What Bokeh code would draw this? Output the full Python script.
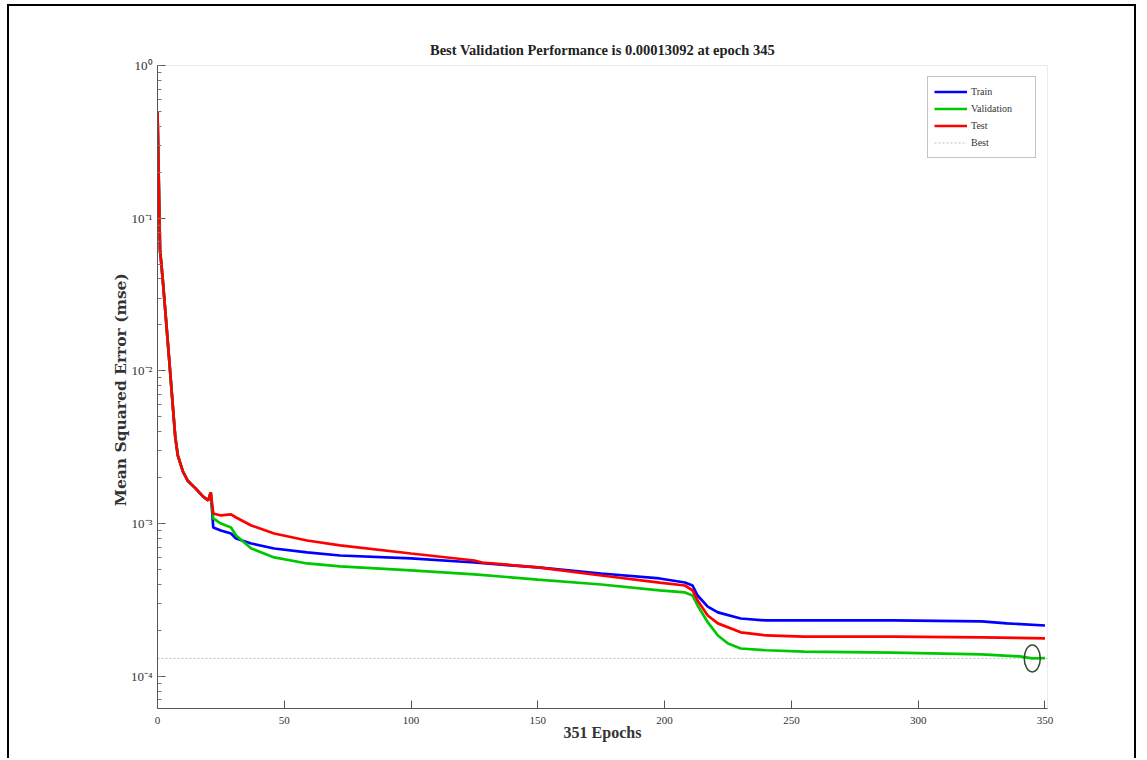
from bokeh.plotting import figure
from bokeh.models import (Range1d, CustomJSTickFormatter, Legend, LegendItem)
from bokeh.embed import file_html
from bokeh.resources import INLINE

# ---- data ----
common_epochs = [0, 1, 2, 3, 4, 5, 6, 7, 8, 10, 12, 15, 18, 20, 21]
common_mse = [0.5, 0.062, 0.041, 0.0256, 0.0159, 0.0098, 0.0060, 0.0037, 0.0028,
              0.0022, 0.0019, 0.0017, 0.0015, 0.00142, 0.0016]

train_epochs = [22, 25, 29, 31, 37, 46, 59, 72, 100, 125, 150, 175, 198, 208, 211,
                213, 217, 221, 230, 240, 290, 325, 335, 350]
train_mse = [0.000942, 0.000901, 0.000861, 0.000799, 0.000741, 0.000687, 0.000647,
             0.000618, 0.000591, 0.000556, 0.000516, 0.000471, 0.000437, 0.000411,
             0.000393, 0.000338, 0.000286, 0.000262, 0.000239, 0.000232, 0.000232,
             0.000229, 0.000222, 0.000215]

val_epochs = [22, 25, 29, 31, 37, 46, 59, 72, 100, 125, 150, 175, 198, 208, 211,
              213, 217, 221, 225, 230, 240, 255, 290, 325, 340, 345, 350]
val_mse = [0.00108, 0.00100, 0.000942, 0.000836, 0.000687, 0.000600, 0.000548,
           0.000524, 0.000493, 0.000465, 0.000430, 0.000399, 0.000365, 0.000354,
           0.000338, 0.000291, 0.000226, 0.000185, 0.000164, 0.000152, 0.000148,
           0.000145, 0.000143, 0.000139, 0.000135, 0.00013092, 0.0001314]

test_epochs = [22, 25, 29, 31, 37, 46, 59, 72, 100, 125, 128, 150, 175, 198, 208,
               211, 213, 217, 221, 230, 240, 255, 290, 325, 350]
test_mse = [0.001164, 0.00113, 0.001148, 0.001096, 0.000972, 0.000861, 0.000775,
            0.000719, 0.000637, 0.000573, 0.000556, 0.000516, 0.000457, 0.000411,
            0.000393, 0.000365, 0.000314, 0.000250, 0.000222, 0.000194, 0.000185,
            0.000182, 0.000182, 0.000180, 0.000177]

best_epoch = 345
best_perf = 0.00013092
n_epochs = 351
x_ticks = [0, 50, 100, 150, 200, 250, 300, 350]

title_text = "Best Validation Performance is 0.00013092 at epoch 345"

train_x = common_epochs + train_epochs
train_y = common_mse + train_mse
val_x = common_epochs + val_epochs
val_y = common_mse + val_mse
test_x = common_epochs + test_epochs
test_y = common_mse + test_mse

p = figure(width=1129, height=754, output_backend="svg", toolbar_location=None,
           y_axis_type="log", x_range=Range1d(0, n_epochs),
           y_range=Range1d(6.15e-5, 1.0),
           min_border_left=148, min_border_right=91, min_border_top=59,
           min_border_bottom=52)
p.styles = {"border-top": "2px solid black", "border-left": "2px solid black",
            "border-right": "2px solid black", "margin-left": "7px",
            "margin-top": "4px"}

p.title.text = title_text
p.title.align = "center"
p.title.offset = -8
p.title.text_font = "Liberation Serif"
p.title.text_font_size = "14.5px"
p.title.text_font_style = "bold"
p.title.text_color = "#222222"
p.title.standoff = 16

p.grid.visible = False
p.outline_line_color = "#ececec"
p.background_fill_color = "white"
p.border_fill_color = "white"

for ax in (p.xaxis[0], p.yaxis[0]):
    ax.axis_line_color = "#555555"
    ax.major_tick_line_color = "#555555"
    ax.minor_tick_line_color = "#777777"
    ax.major_label_text_font = "Liberation Sans Narrow"
    ax.major_label_text_color = "#333333"
    ax.axis_label_text_font_style = "bold"
    ax.axis_label_text_color = "#333333"

xa = p.xaxis[0]
xa.ticker = x_ticks
xa.major_tick_in = 8
xa.major_tick_out = 0
xa.minor_tick_in = 0
xa.minor_tick_out = 0
xa.major_label_standoff = 8
xa.major_label_text_font_size = "11px"
xa.axis_label = f"{n_epochs} Epochs"
xa.axis_label_text_font = "Liberation Serif"
xa.axis_label_text_font_size = "16px"
xa.axis_label_standoff = -3

ya = p.yaxis[0]
ya.major_tick_in = 8
ya.major_tick_out = 0
ya.minor_tick_in = 4
ya.minor_tick_out = 0
ya.major_label_standoff = 5
ya.major_label_text_font_size = "13px"
ya.formatter = CustomJSTickFormatter(code="""
const e = Math.round(Math.log10(tick));
const sup = {'-':'\u207b','0':'\u2070','1':'\u00b9','2':'\u00b2','3':'\u00b3','4':'\u2074',
             '5':'\u2075','6':'\u2076','7':'\u2077','8':'\u2078','9':'\u2079'};
return '10' + String(e).split('').map(c => sup[c]).join('');
""")
ya.axis_label = "Mean Squared Error  (mse)"
ya.axis_label_text_font = "DejaVu Serif"
ya.axis_label_text_font_size = "15.5px"
ya.axis_label_standoff = -2

best_line = p.line([0, n_epochs], [best_perf, best_perf], line_color="#c0c0c0",
                   line_width=1, line_dash="2 2")
r_train = p.line(train_x, train_y, line_color="#0000ff", line_width=2.7)
r_val = p.line(val_x, val_y, line_color="#00c800", line_width=2.7)
r_test = p.line(test_x, test_y, line_color="#ff0000", line_width=2.7)
p.ellipse(x=[best_epoch], y=[best_perf], width=16, height=27,
          width_units="screen", height_units="screen",
          fill_color=None, line_color="#2f4f2f", line_width=1.5)

legend = Legend(items=[
    LegendItem(label="Train", renderers=[r_train]),
    LegendItem(label="Validation", renderers=[r_val]),
    LegendItem(label="Test", renderers=[r_test]),
    LegendItem(label="Best", renderers=[best_line]),
], location="top_right")
legend.margin = 11
legend.padding = 6
legend.spacing = 0
legend.glyph_width = 33
legend.glyph_height = 17
legend.label_height = 17
legend.label_width = 58
legend.label_standoff = 4
legend.label_text_font = "Liberation Serif"
legend.label_text_font_size = "10px"
legend.label_text_color = "#333333"
legend.border_line_color = "#888888"
legend.background_fill_alpha = 1.0
p.add_layout(legend)

open("out.html", "w").write(file_html(p, INLINE))
